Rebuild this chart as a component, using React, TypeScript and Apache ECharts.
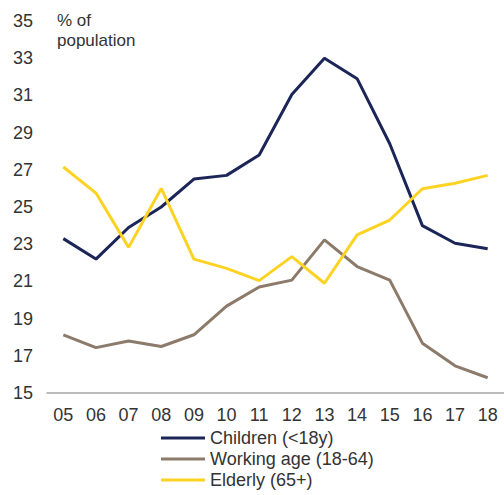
import React, { useEffect, useRef } from "react";
import * as echarts from "echarts";

const categories = ["05", "06", "07", "08", "09", "10", "11", "12", "13", "14", "15", "16", "17", "18"];
const children = [23.3, 22.2, 23.9, 25.0, 26.5, 26.7, 27.8, 31.05, 33.0, 31.9, 28.4, 24.0, 23.05, 22.75];
const workingAge = [18.13, 17.44, 17.8, 17.5, 18.13, 19.67, 20.7, 21.07, 23.23, 21.8, 21.07, 17.68, 16.46, 15.82];
const elderly = [27.15, 25.75, 22.83, 26.0, 22.2, 21.7, 21.04, 22.33, 20.9, 23.5, 24.3, 25.98, 26.28, 26.7];
const yTicks = { min: 15, max: 35, interval: 2 };

const FONT = "'Liberation Sans', Arial, sans-serif";

export default function App() {
  const ref = useRef<HTMLDivElement>(null);
  useEffect(() => {
    if (!ref.current) return;
    const chart = echarts.init(ref.current, null, { renderer: "svg" });
    chart.setOption({
      animation: false,
      textStyle: { fontFamily: FONT },
      graphic: [
        {
          type: "text",
          left: 57,
          top: 10,
          style: {
            text: "% of\npopulation",
            font: `17px ${FONT}`,
            fill: "#333333",
            lineHeight: 20,
          },
        },
      ],
      grid: { left: 47, top: 21, width: 460, height: 372, containLabel: false },
      legend: {
        orient: "vertical",
        left: 161,
        top: 429,
        padding: 0,
        height: 66,
        itemWidth: 44,
        itemHeight: 3,
        itemGap: 3,
        icon: "rect",
        textStyle: { fontSize: 18, color: "#333333", fontFamily: FONT },
        data: ["Children (<18y)", "Working age (18-64)", "Elderly (65+)"],
      },
      xAxis: {
        type: "category",
        data: categories,
        boundaryGap: true,
        axisLine: { show: true, lineStyle: { color: "#a6a6a6", width: 1.5 } },
        axisTick: { show: false },
        axisLabel: { fontSize: 18, color: "#333333", margin: 13, fontFamily: FONT },
        splitLine: { show: false },
      },
      yAxis: {
        type: "value",
        min: yTicks.min,
        max: yTicks.max,
        interval: yTicks.interval,
        axisLine: { show: false },
        axisTick: { show: false },
        splitLine: { show: false },
        axisLabel: { fontSize: 18, color: "#333333", margin: 14, fontFamily: FONT },
      },
      series: [
        {
          name: "Children (<18y)",
          type: "line",
          data: children,
          symbol: "none",
          lineStyle: { color: "#1c2557", width: 3 },
          itemStyle: { color: "#1c2557" },
        },
        {
          name: "Working age (18-64)",
          type: "line",
          data: workingAge,
          symbol: "none",
          lineStyle: { color: "#8c7a6b", width: 3 },
          itemStyle: { color: "#8c7a6b" },
        },
        {
          name: "Elderly (65+)",
          type: "line",
          data: elderly,
          symbol: "none",
          lineStyle: { color: "#fdd323", width: 3 },
          itemStyle: { color: "#fdd323" },
        },
      ],
    });
    return () => chart.dispose();
  }, []);
  return <div ref={ref} style={{ width: 504, height: 495, position: "absolute", left: 0, top: 0 }} />;
}
